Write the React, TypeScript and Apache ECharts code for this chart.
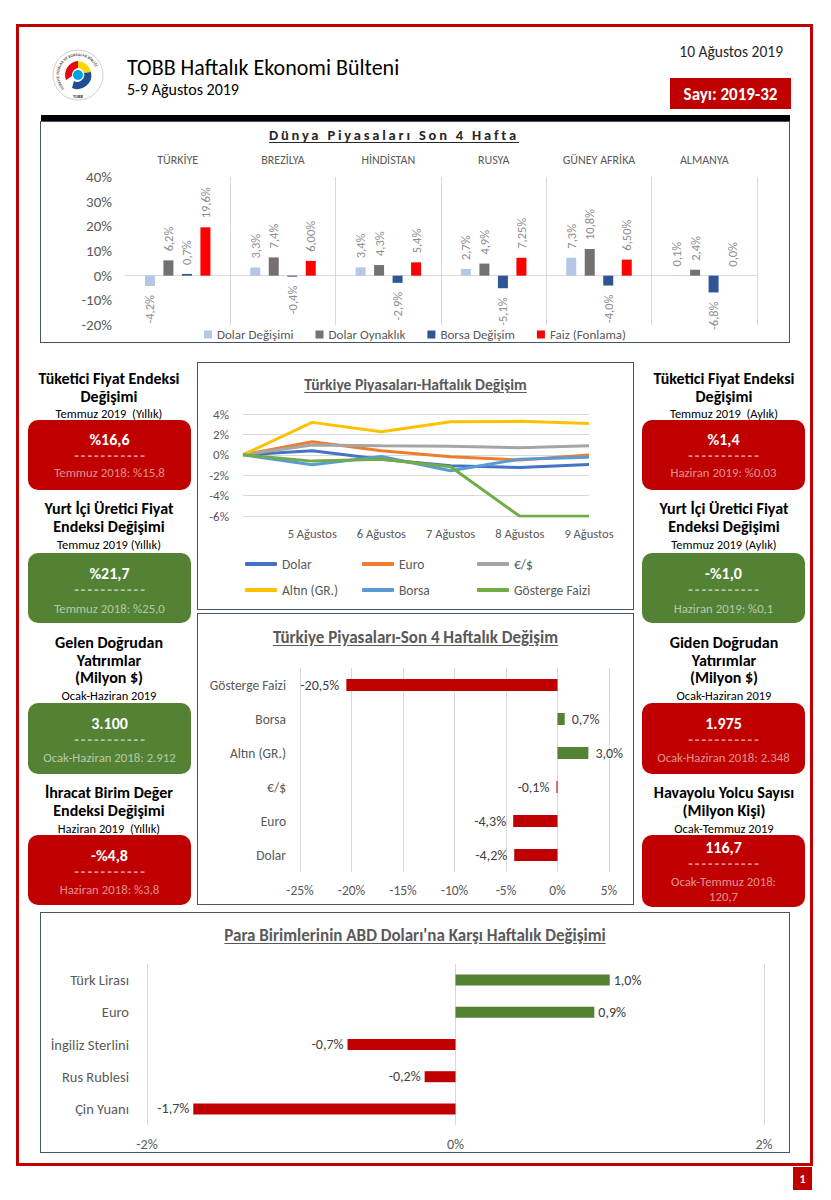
import React, { useEffect, useRef } from "react";
import * as echarts from "echarts";

const FONT = "Carlito, Lato, 'Open Sans', sans-serif";
const RED = "#C00000";
const GREEN = "#548235";
const BORDER = "#44546A";

// ---------- Dünya Piyasaları Son 4 Hafta ----------
const countries = ["TÜRKİYE", "BREZİLYA", "HİNDİSTAN", "RUSYA", "GÜNEY AFRİKA", "ALMANYA"];
const dolarDegisimi = [-4.2, 3.3, 3.4, 2.7, 7.3, 0.1];
const dolarOynaklik = [6.2, 7.4, 4.3, 4.9, 10.8, 2.4];
const borsaDegisim = [0.7, -0.4, -2.9, -5.1, -4.0, -6.8];
const faizFonlama = [19.6, 6.0, 5.4, 7.25, 6.5, 0.0];
const faizDecimals = [1, 2, 1, 2, 2, 1];

// ---------- Türkiye Piyasaları-Haftalık Değişim ----------
const days = ["", "5 Ağustos", "6 Ağustos", "7 Ağustos", "8 Ağustos", "9 Ağustos"];
const dolarLine = [0, 0.39, -0.43, -1.08, -1.25, -0.95];
const euroLine = [0, 1.28, 0.39, -0.2, -0.5, -0.03];
const euroDolarLine = [0, 0.95, 0.88, 0.85, 0.69, 0.88];
const altinLine = [0, 3.18, 2.26, 3.25, 3.28, 3.08];
const borsaLine = [0, -0.98, -0.16, -1.57, -0.43, -0.23];
const gostergeLine = [0, -0.62, -0.43, -1.18, -6.03, -6.03];

// ---------- Türkiye Piyasaları-Son 4 Haftalık Değişim ----------
const marketCats = ["Gösterge Faizi", "Borsa", "Altın (GR.)", "€/$", "Euro", "Dolar"];
const marketChange = [-20.5, 0.7, 3.0, -0.1, -4.3, -4.2];

// ---------- Para Birimlerinin ABD Doları'na Karşı Haftalık Değişimi ----------
const currencies = ["Türk Lirası", "Euro", "İngiliz Sterlini", "Rus Rublesi", "Çin Yuanı"];
const currencyChange = [1.0, 0.9, -0.7, -0.2, -1.7];

const fmt = (v: number, d = 1) => v.toFixed(d).replace(".", ",") + "%";

function topBarItems(values: number[], decimals?: number[]) {
  return values.map((v, i) => ({
    value: v,
    label: {
      position: v < 0 ? "bottom" : "top",
      align: v < 0 ? "right" : "left",
      formatter: fmt(v, decimals ? decimals[i] : 1),
    },
  }));
}

function signedBars(values: number[]) {
  return values.map((v) => ({
    value: v,
    itemStyle: { color: v < 0 ? RED : GREEN },
    label: { position: v < 0 ? "left" : "right", formatter: fmt(v) },
  }));
}

const topLabel = {
  show: true,
  rotate: 90,
  verticalAlign: "middle",
  distance: 9,
  color: "#8C8C8C",
  fontSize: 12.5,
  fontFamily: FONT,
};

const topOption: any = {
  animation: false,
  textStyle: { fontFamily: FONT },
  grid: { left: 85, right: 33, top: 56, height: 148, outerBoundsMode: "none" },
  legend: {
    left: "center",
    top: 207,
    padding: 0,
    icon: "rect",
    itemWidth: 8,
    itemHeight: 8,
    itemGap: 22,
    textStyle: { fontSize: 13, color: "#595959", fontFamily: FONT },
  },
  xAxis: [
    {
      type: "category",
      data: countries,
      position: "top",
      axisLine: { show: false, onZero: false },
      axisTick: { show: false },
      axisLabel: { color: "#595959", fontSize: 12, margin: 11, fontFamily: FONT },
      splitLine: { show: true, showMinLine: false, lineStyle: { color: "#D9D9D9", width: 1 } },
    },
    {
      type: "category",
      data: countries,
      position: "bottom",
      axisLine: { show: true, onZero: true, lineStyle: { color: "#D9D9D9", width: 1 } },
      axisTick: { show: false },
      axisLabel: { show: false },
      splitLine: { show: false },
    },
  ],
  yAxis: {
    type: "value",
    min: -20,
    max: 40,
    interval: 10,
    axisLabel: { formatter: "{value}%", color: "#595959", fontSize: 15, margin: 13, fontFamily: FONT },
    splitLine: { show: false },
    axisLine: { show: false },
    axisTick: { show: false },
  },
  series: [
    { name: "Dolar Değişimi", type: "bar", barWidth: 10, barGap: "85%", itemStyle: { color: "#B4C7E7" }, label: topLabel, data: topBarItems(dolarDegisimi) },
    { name: "Dolar Oynaklık", type: "bar", barWidth: 10, barGap: "85%", itemStyle: { color: "#767171" }, label: topLabel, data: topBarItems(dolarOynaklik) },
    { name: "Borsa Değişim", type: "bar", barWidth: 10, barGap: "85%", itemStyle: { color: "#2F5597" }, label: topLabel, data: topBarItems(borsaDegisim) },
    { name: "Faiz (Fonlama)", type: "bar", barWidth: 10, barGap: "85%", itemStyle: { color: "#FF0000" }, label: topLabel, data: topBarItems(faizFonlama, faizDecimals) },
  ],
};

const lineSeries = [
  { name: "Dolar", data: dolarLine, color: "#4472C4" },
  { name: "Euro", data: euroLine, color: "#ED7D31" },
  { name: "€/$", data: euroDolarLine, color: "#A5A5A5" },
  { name: "Altın (GR.)", data: altinLine, color: "#FFC000" },
  { name: "Borsa", data: borsaLine, color: "#5B9BD5" },
  { name: "Gösterge Faizi", data: gostergeLine, color: "#70AD47" },
];
const legendPos = [
  [48, 195],
  [165, 195],
  [280, 195],
  [48, 221],
  [165, 221],
  [280, 221],
];

const lineOption: any = {
  animation: false,
  textStyle: { fontFamily: FONT },
  grid: { left: 46, right: 45, top: 52, height: 102, outerBoundsMode: "none" },
  legend: lineSeries.map((s, i) => ({
    data: [s.name],
    left: legendPos[i][0],
    top: legendPos[i][1],
    padding: 0,
    icon: "roundRect",
    itemWidth: 32,
    itemHeight: 4,
    textStyle: { fontSize: 13.5, color: "#595959", fontFamily: FONT },
  })),
  xAxis: {
    type: "category",
    data: days,
    boundaryGap: false,
    axisLine: { show: false, onZero: false },
    axisTick: { show: false },
    axisLabel: { color: "#595959", fontSize: 12.5, margin: 11, fontFamily: FONT, interval: 0 },
    splitLine: { show: false },
  },
  yAxis: {
    type: "value",
    min: -6,
    max: 4,
    interval: 2,
    axisLabel: { formatter: "{value}%", color: "#595959", fontSize: 13, margin: 14, fontFamily: FONT },
    splitLine: { show: true, lineStyle: { color: "#D9D9D9", width: 1 } },
    axisLine: { show: false },
    axisTick: { show: false },
  },
  series: lineSeries.map((s) => ({
    name: s.name,
    type: "line",
    data: s.data,
    symbol: "none",
    color: s.color,
    lineStyle: { color: s.color, width: 3 },
  })),
};

const hbarAxisLabel = { color: "#595959", fontSize: 13.5, fontFamily: FONT };

const marketOption: any = {
  animation: false,
  textStyle: { fontFamily: FONT },
  grid: { left: 103, right: 25, top: 55, height: 204, outerBoundsMode: "none" },
  xAxis: {
    type: "value",
    min: -25,
    max: 5,
    interval: 5,
    axisLabel: { ...hbarAxisLabel, formatter: "{value}%", margin: 11 },
    splitLine: { show: true, lineStyle: { color: "#D9D9D9", width: 1 } },
    axisLine: { show: false },
    axisTick: { show: false },
  },
  yAxis: {
    type: "category",
    data: marketCats,
    inverse: true,
    axisLabel: { ...hbarAxisLabel, margin: 14 },
    axisLine: { show: false },
    axisTick: { show: false },
  },
  series: [
    {
      type: "bar",
      barWidth: 12,
      data: signedBars(marketChange),
      label: { show: true, distance: 7, color: "#404040", fontSize: 14, fontFamily: FONT },
    },
  ],
};

const currencyOption: any = {
  animation: false,
  textStyle: { fontFamily: FONT },
  grid: { left: 107, right: 26, top: 52, height: 161, outerBoundsMode: "none" },
  xAxis: {
    type: "value",
    min: -2,
    max: 2,
    interval: 2,
    axisLabel: { ...hbarAxisLabel, fontSize: 14, formatter: "{value}%", margin: 12 },
    splitLine: { show: true, lineStyle: { color: "#D9D9D9", width: 1 } },
    axisLine: { show: false },
    axisTick: { show: false },
  },
  yAxis: {
    type: "category",
    data: currencies,
    inverse: true,
    axisLabel: { ...hbarAxisLabel, fontSize: 14.5, margin: 18 },
    axisLine: { show: false },
    axisTick: { show: false },
  },
  series: [
    {
      type: "bar",
      barWidth: 11,
      data: signedBars(currencyChange),
      label: { show: true, distance: 4, color: "#404040", fontSize: 14, fontFamily: FONT },
    },
  ],
};

function EChart({ option, left, top, width, height }: any) {
  const ref = useRef<HTMLDivElement>(null);
  useEffect(() => {
    const chart = echarts.init(ref.current as HTMLDivElement, null, { renderer: "svg" });
    chart.setOption(option);
    return () => chart.dispose();
  }, []);
  return (
    <>
      <div ref={ref} style={{ position: "absolute", left, top, width, height }} />
      <div
        style={{
          position: "absolute",
          left,
          top,
          width,
          height,
          boxSizing: "border-box",
          border: `1.5px solid ${BORDER}`,
          pointerEvents: "none",
        }}
      />
    </>
  );
}

// Text block; y = centre of the first line, lines separated with "\n"
function T({ x, y, w, size = 12, weight = 400, color = "#000", align = "center", ls, underline, lh, children }: any) {
  const h = lh || Math.round(size * 1.25);
  const n = typeof children === "string" ? children.split("\n").length : 1;
  return (
    <div
      style={{
        position: "absolute",
        left: x,
        width: w,
        top: y - h / 2,
        height: h * n,
        lineHeight: h + "px",
        fontSize: size,
        fontWeight: weight,
        color,
        textAlign: align,
        whiteSpace: "pre",
        letterSpacing: ls,
        textDecoration: underline ? "underline" : undefined,
        textUnderlineOffset: underline ? "2px" : undefined,
      }}
    >
      {children}
    </div>
  );
}

function InfoBlock({ x, w, bx, bw, heads, sub, headY, subY, box }: any) {
  const { top, bottom, color, main, mainY, lines, lineY } = box;
  const dashY = mainY + 17;
  const subColor = "rgba(255,255,255,0.58)";
  return (
    <>
      <T x={x} y={headY} w={w} size={16} weight={700} lh={17.5}>
        {heads.join("\n")}
      </T>
      <T x={x} y={subY} w={w} size={12.5} lh={14}>
        {sub}
      </T>
      <div
        style={{
          position: "absolute",
          left: bx,
          top,
          width: bw,
          height: bottom - top,
          background: color,
          borderRadius: 10,
        }}
      />
      <T x={bx} y={mainY} w={bw} size={16} weight={700} color="#fff" lh={17}>
        {main}
      </T>
      <T x={bx + 1} y={dashY} w={bw} size={15} weight={700} color={subColor} ls="2px" lh={12}>
        -----------
      </T>
      <T x={bx} y={lineY} w={bw} size={12.8} color={subColor} lh={15}>
        {lines.join("\n")}
      </T>
    </>
  );
}

function Logo() {
  return (
    <svg width={54} height={62} viewBox="0 0 54 62" style={{ position: "absolute", left: 51, top: 44 }}>
      <defs>
        <path id="ringPath" d="M 13.6 44.4 A 19 19 0 1 1 40.4 44.4" />
      </defs>
      <circle cx={27} cy={31} r={25} fill="#fff" stroke="#D0D0D0" strokeWidth={1} />
      <text fontSize={4} fill="#555" fontFamily={FONT} fontWeight={700}>
        <textPath href="#ringPath">TÜRKİYE ODALAR VE BORSALAR BİRLİĞİ</textPath>
      </text>
      <path d="M 27 17 A 14 14 0 0 0 15 36 L 21 32 A 7 7 0 0 1 27 24 Z" fill="#E30613" />
      <path d="M 27 17 A 14 14 0 0 1 40 28 L 33 29 A 7 7 0 0 0 27 24 Z" fill="#FFD500" />
      <path d="M 40 28 A 14 14 0 0 1 21 44 L 23 37 A 7 7 0 0 0 33 29 Z" fill="#1D4F91" />
      <circle cx={27} cy={31} r={5} fill="#00A0E3" />
      <text x={27} y={54} fontSize={4.5} textAnchor="middle" fill="#333" fontWeight={700} fontFamily={FONT}>
        TOBB
      </text>
    </svg>
  );
}

export default function App() {
  const L = { x: 20, w: 178, bx: 28, bw: 163 };
  const R = { x: 634, w: 180, bx: 642, bw: 163 };
  return (
    <div
      style={{
        position: "absolute",
        left: 0,
        top: 0,
        width: 831,
        height: 1200,
        background: "#fff",
        overflow: "hidden",
        fontFamily: FONT,
      }}
    >
      {/* outer frame */}
      <div
        style={{
          position: "absolute",
          left: 16,
          top: 24,
          width: 797,
          height: 1142,
          boxSizing: "border-box",
          border: `3px solid ${RED}`,
        }}
      />
      <div style={{ position: "absolute", left: 793, top: 1167, width: 19, height: 23, background: RED }} />
      <T x={793} y={1179} w={19} size={12} weight={700} color="#fff">
        1
      </T>

      {/* header */}
      <Logo />
      <T x={127} y={68} w={400} size={22} align="left" lh={24}>
        TOBB Haftalık Ekonomi Bülteni
      </T>
      <T x={127} y={90} w={300} size={16} align="left" lh={18}>
        5-9 Ağustos 2019
      </T>
      <T x={583} y={51} w={200} size={15.5} align="right" color="#262626">
        10 Ağustos 2019
      </T>
      <div style={{ position: "absolute", left: 670, top: 78, width: 121, height: 31, background: RED }} />
      <T x={670} y={94} w={121} size={17} weight={700} color="#fff">
        Sayı: 2019-32
      </T>
      <div style={{ position: "absolute", left: 41, top: 115, width: 749, height: 6, background: "#000" }} />

      {/* top chart */}
      <EChart option={topOption} left={40} top={121} width={750} height={222} />
      <T x={194} y={135} w={400} size={14.5} weight={700} ls="2.8px" color="#262626" underline>
        Dünya Piyasaları Son 4 Hafta
      </T>

      {/* middle charts */}
      <EChart option={lineOption} left={197} top={362} width={437} height={248} />
      <T x={197} y={385} w={437} size={15.6} weight={700} color="#595959" underline>
        Türkiye Piyasaları-Haftalık Değişim
      </T>
      <EChart option={marketOption} left={197} top={613} width={437} height={292} />
      <T x={197} y={637} w={437} size={17} weight={700} color="#595959" underline>
        Türkiye Piyasaları-Son 4 Haftalık Değişim
      </T>

      {/* left column */}
      <InfoBlock
        {...L}
        heads={["Tüketici Fiyat Endeksi", "Değişimi"]}
        sub="Temmuz 2019  (Yıllık)"
        headY={379}
        subY={414}
        box={{ top: 420, bottom: 490, color: RED, main: "%16,6", mainY: 439, lines: ["Temmuz 2018: %15,8"], lineY: 472 }}
      />
      <InfoBlock
        {...L}
        heads={["Yurt İçi Üretici Fiyat", "Endeksi Değişimi"]}
        sub="Temmuz 2019 (Yıllık)"
        headY={509}
        subY={545}
        box={{ top: 553, bottom: 623, color: GREEN, main: "%21,7", mainY: 573, lines: ["Temmuz 2018: %25,0"], lineY: 608 }}
      />
      <InfoBlock
        {...L}
        heads={["Gelen Doğrudan", "Yatırımlar", "(Milyon $)"]}
        sub="Ocak-Haziran 2019"
        headY={643}
        subY={695.5}
        box={{ top: 703, bottom: 774, color: GREEN, main: "3.100", mainY: 723, lines: ["Ocak-Haziran 2018: 2.912"], lineY: 757 }}
      />
      <InfoBlock
        {...L}
        heads={["İhracat Birim Değer", "Endeksi Değişimi"]}
        sub="Haziran 2019  (Yıllık)"
        headY={793}
        subY={829}
        box={{ top: 835, bottom: 905, color: RED, main: "-%4,8", mainY: 855, lines: ["Haziran 2018: %3,8"], lineY: 889 }}
      />

      {/* right column */}
      <InfoBlock
        {...R}
        heads={["Tüketici Fiyat Endeksi", "Değişimi"]}
        sub="Temmuz 2019  (Aylık)"
        headY={379}
        subY={414}
        box={{ top: 420, bottom: 490, color: RED, main: "%1,4", mainY: 439, lines: ["Haziran 2019: %0,03"], lineY: 472 }}
      />
      <InfoBlock
        {...R}
        heads={["Yurt İçi Üretici Fiyat", "Endeksi Değişimi"]}
        sub="Temmuz 2019 (Aylık)"
        headY={509}
        subY={545}
        box={{ top: 553, bottom: 623, color: GREEN, main: "-%1,0", mainY: 573, lines: ["Haziran 2019: %0,1"], lineY: 608 }}
      />
      <InfoBlock
        {...R}
        heads={["Giden Doğrudan", "Yatırımlar", "(Milyon $)"]}
        sub="Ocak-Haziran 2019"
        headY={643}
        subY={695.5}
        box={{ top: 703, bottom: 774, color: RED, main: "1.975", mainY: 723, lines: ["Ocak-Haziran 2018: 2.348"], lineY: 757 }}
      />
      <InfoBlock
        {...R}
        heads={["Havayolu Yolcu Sayısı", "(Milyon Kişi)"]}
        sub="Ocak-Temmuz 2019"
        headY={793}
        subY={829}
        box={{ top: 835, bottom: 907, color: RED, main: "116,7", mainY: 847, lines: ["Ocak-Temmuz 2018:", "120,7"], lineY: 881 }}
      />

      {/* bottom chart */}
      <EChart option={currencyOption} left={40} top={912} width={750} height={241} />
      <T x={40} y={935} w={750} size={17} weight={700} color="#595959" underline>
        Para Birimlerinin ABD Doları'na Karşı Haftalık Değişimi
      </T>
    </div>
  );
}
